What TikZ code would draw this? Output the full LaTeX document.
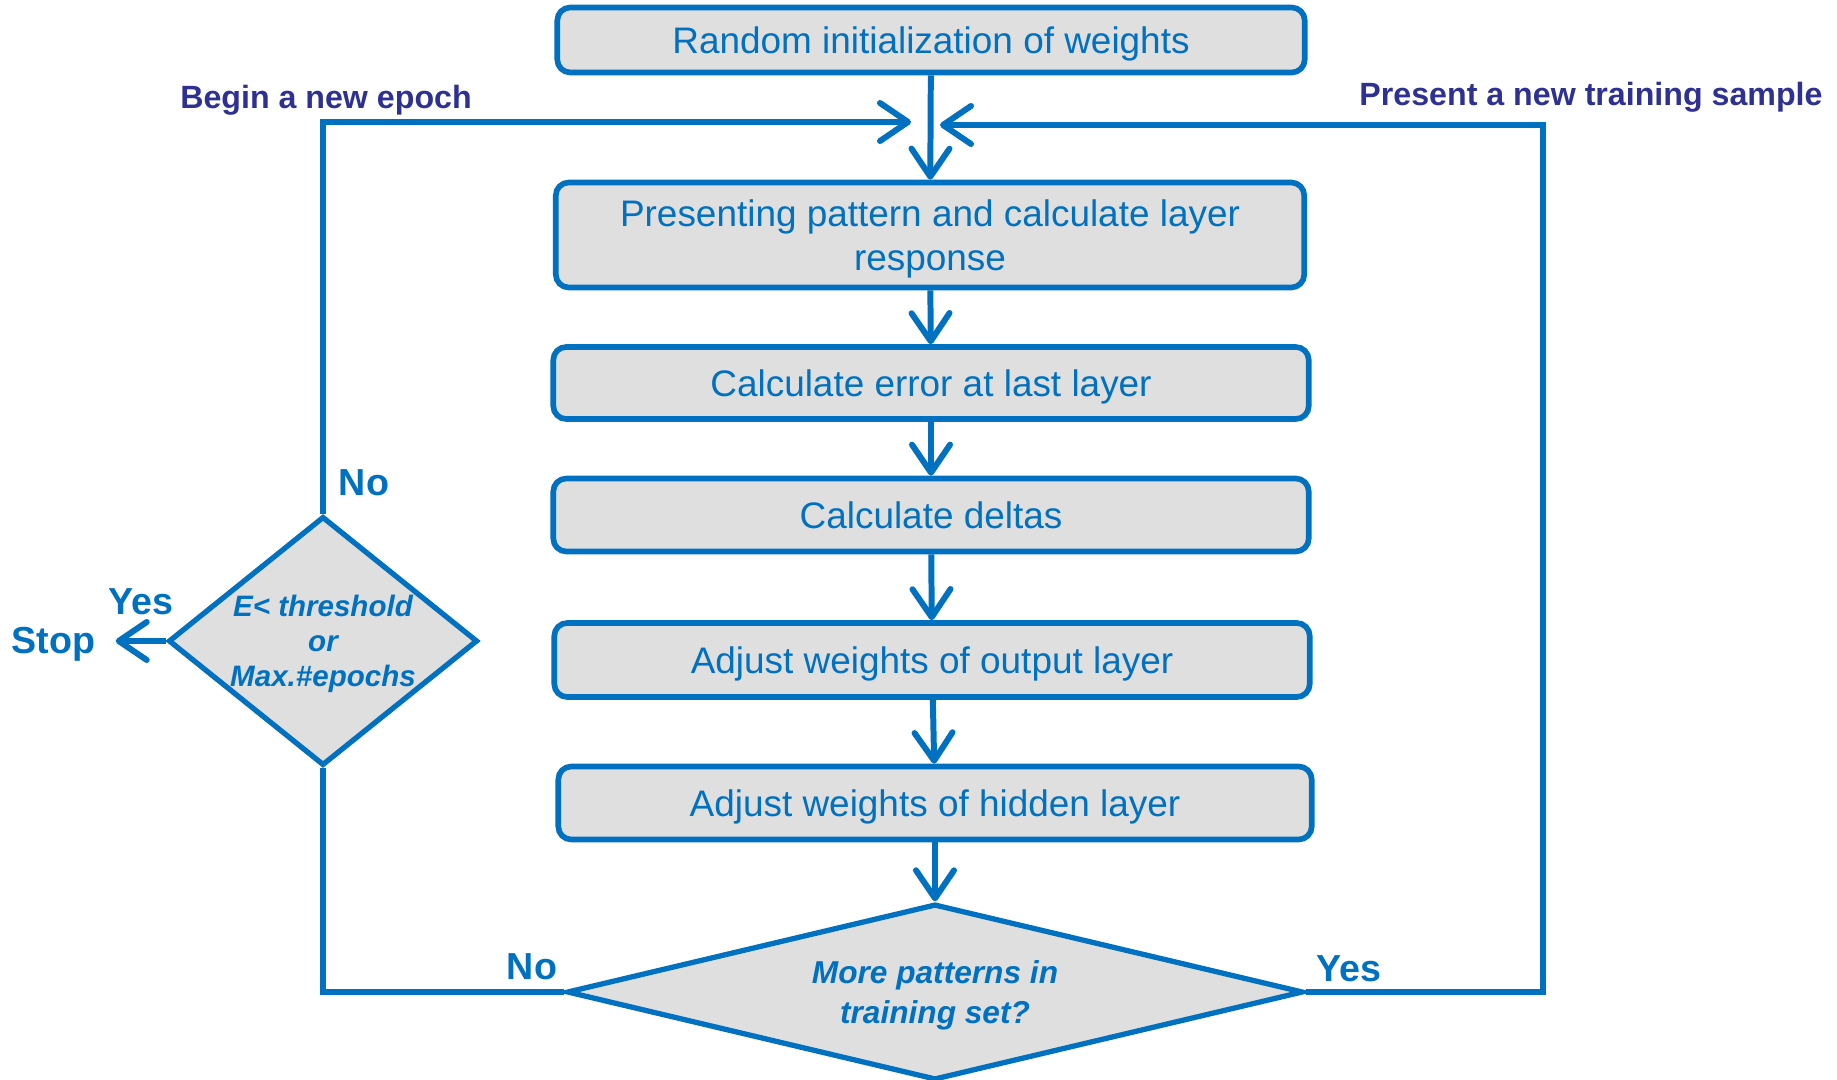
\documentclass[tikz,border=0pt]{standalone}
\usepackage{fontspec}
\setmainfont{Liberation Sans}
\usetikzlibrary{shapes.geometric, arrows.meta, positioning}
\definecolor{flowblue}{HTML}{0070C0}
\definecolor{labelnavy}{HTML}{2E3192}
\definecolor{boxgray}{HTML}{DFDFDF}

\begin{document}
\begin{tikzpicture}[x=0.01cm, y=-0.01cm,
        box/.style={draw=flowblue, fill=boxgray, line width=1.6pt, rounded corners=0.13cm, text=flowblue, align=center, inner sep=0pt, text depth=0pt, minimum width=7.55cm, minimum height=0.72cm, font=\fontsize{10.5}{12.6}\selectfont},
        decision/.style={diamond, draw=flowblue, fill=boxgray, line width=1.5pt, text=flowblue, align=center, inner sep=0pt, text depth=0pt, font=\bfseries\itshape},
        wire/.style={draw=flowblue, line width=1.7pt},
        flow/.style={wire, -{Straight Barb[length=2.8mm, width=3.8mm, round]}},
        lbl/.style={text=flowblue, font=\fontsize{10.7}{12.8}\selectfont\bfseries},
        note/.style={text=labelnavy, font=\fontsize{9.15}{11}\selectfont\bfseries}]
        \useasboundingbox (0,0) rectangle (1837,1080);

        % Steps
        \node[box, minimum width=7.47cm, minimum height=0.65cm] (init) at (931,40) {Random initialization of weights};
        \node[box, minimum width=7.48cm, minimum height=1.05cm] (present) at (930,235) {Presenting pattern and calculate layer\\response};
        \node[box] (error) at (931,383) {Calculate error at last layer};
        \node[box, minimum height=0.73cm] (deltas) at (931,515) {Calculate deltas};
        \node[box, minimum height=0.74cm] (outw) at (932,660) {Adjust weights of output layer};
        \node[box, minimum width=7.53cm, minimum height=0.73cm] (hidw) at (935,803) {Adjust weights of hidden layer};

        % Decisions
        \node[decision, aspect=4.18, minimum width=7.36cm, minimum height=1.76cm, font=\fontsize{9}{11.2}\selectfont\bfseries\itshape] (more) at (935,992) {More patterns in\\training set?};
        \node[decision, aspect=1.24, minimum width=3.09cm, minimum height=2.49cm, font=\fontsize{8.4}{10}\selectfont\bfseries\itshape] (check) at (323,641) {E< threshold\\or\\Max.\#epochs};

        % Main chain
        \foreach \a/\b in {init/present, present/error, error/deltas, deltas/outw, outw/hidw, hidw/more}
            \draw[flow] (\a) -- (\b);

        % Loops
        \coordinate (ltip) at (911,122);
        \coordinate (rtip) at (940,125);
        \coordinate (rcorner) at (1543,125);
        \draw[wire] (more.west) -| (check.south);
        \draw[flow] (check.north) |- (ltip);
        \draw[flow] (more.east) -| (rcorner) -- (rtip);

        % Stop
        \node[lbl, left=0.5cm of check.west, inner xsep=0.2cm, yshift=-0.03cm] (stop) {Stop};
        \draw[flow] (check.west) -- (stop.east |- check.west);

        % Labels
        \node[lbl] (yes1) at (141,602) {Yes};
        \node[lbl] (no1) at (364,483) {No};
        \node[lbl] (no2) at (532,967) {No};
        \node[lbl] (yes2) at (1349,969) {Yes};
        \node[note] (epoch) at (326,100) {Begin a new epoch};
        \node[note] (sample) at (1591,97) {Present a new training sample};
\end{tikzpicture}
\end{document}
